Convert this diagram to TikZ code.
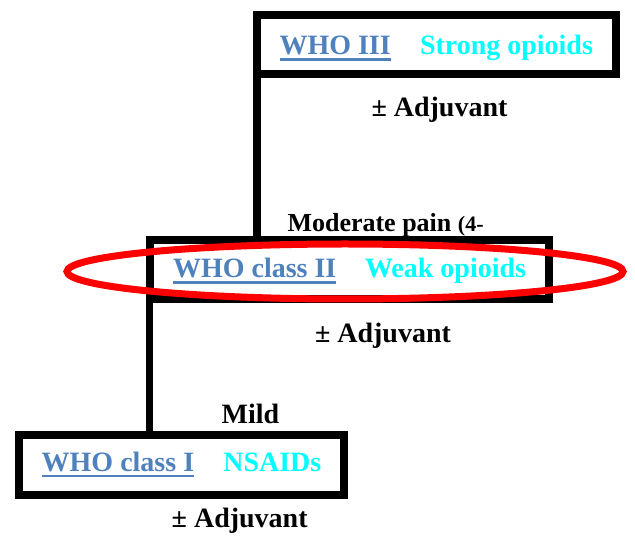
\documentclass[tikz,border=0pt]{standalone}
\usepackage{fontspec}
\usetikzlibrary{shapes.geometric}
\setmainfont{Liberation Serif}
\definecolor{whoblue}{HTML}{4F81BD}
\definecolor{drugcyan}{HTML}{00FFFF}
\definecolor{ringred}{HTML}{FF0000}
\begin{document}
\begin{tikzpicture}[x=1pt,y=1pt,
  stagebox/.style={draw=black,line width=8pt,inner sep=0pt,outer sep=0pt,rectangle},
  conn/.style={draw=black,line width=7.5pt},
  lbl/.style={inner sep=0pt,outer sep=0pt,anchor=base west,font=\fontsize{28}{30}\selectfont\bfseries},
  wholbl/.style={lbl,text=whoblue},
  druglbl/.style={lbl,text=drugcyan},
  uline/.style={draw=whoblue,line width=2.6pt},
  ring/.style={draw=ringred,line width=7pt}]
\useasboundingbox (0,0) rectangle (635,536);
% boxes
\node[stagebox,minimum width=359pt,minimum height=59.5pt] (b3) at (436.5,491.25) {};
\node[stagebox,minimum width=399.5pt,minimum height=59pt] (b2) at (349.25,266) {};
\node[stagebox,minimum width=324.5pt,minimum height=59pt] (b1) at (181.25,71) {};
% connectors
\draw[conn] (b3.south west) -- (b3.south west |- b2.north);
\draw[conn] (b2.south west) -- (b2.south west |- b1.north);
% class III
\node[wholbl] (w3) at (279.5,481) {WHO III};
\draw[uline] ([yshift=-4.5pt]w3.base west) -- ([yshift=-4.5pt]w3.base east);
\node[druglbl] (d3) at (420,481) {Strong opioids};
\node[lbl] (a3) at (371.5,419.5) {± Adjuvant};
% class II
\node[lbl,font=\fontsize{26}{28}\selectfont\bfseries] (m2) at (287.5,304.3) {Moderate pain {\fontsize{22}{24}\selectfont(4-}};
\node[wholbl] (w2) at (173,258) {WHO class II};
\draw[uline] ([yshift=-4.5pt]w2.base west) -- ([yshift=-4.5pt]w2.base east);
\node[druglbl] (d2) at (365,258) {Weak opioids};
\node[lbl] (a2) at (315,193.7) {± Adjuvant};
% class I
\node[lbl] (m1) at (221.7,112.7) {Mild};
\node[wholbl] (w1) at (41.7,64.3) {WHO class I};
\draw[uline] ([yshift=-4.5pt]w1.base west) -- ([yshift=-4.5pt]w1.base east);
\node[druglbl] (d1) at (223.3,64.3) {NSAIDs};
\node[lbl] (a1) at (171.7,8.7) {± Adjuvant};
% highlight ring
\node[ring,ellipse,minimum width=556pt,minimum height=55pt,inner sep=0pt,outer sep=0pt] (hl) at (345,264.5) {};
\end{tikzpicture}
\end{document}
